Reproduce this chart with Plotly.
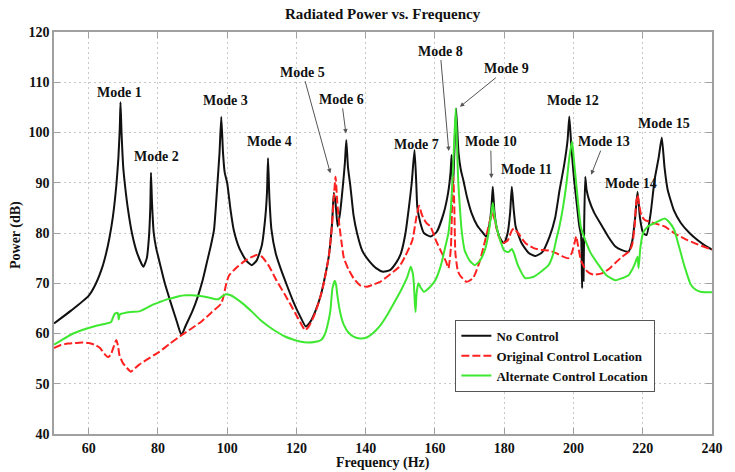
import plotly.graph_objects as go

# ---------------- data ----------------
freq_nc = [50, 55, 60, 62, 64, 65, 66, 67, 68, 68.6, 69.0, 69.2, 69.5, 70, 70.5, 71.3, 72.5, 74, 75.8,
           76.8, 77.4, 77.8, 78.0, 78.3, 78.8, 79.5, 80.2, 82, 84, 85.5, 86.8, 88, 90, 91.5, 93, 94.3,
           95.3, 96.2, 97.2, 97.8, 98.3, 98.8, 99.3, 100, 101, 101.9, 103.5, 105.5, 107.1, 108.5, 110,
           111, 111.5, 111.8, 112.2, 112.8, 114, 115.5, 117.3, 119, 121, 122.7, 124, 125.5, 127, 128.3,
           129.4, 130.3, 130.8, 131.3, 131.9, 132.6, 133.5, 134.0, 134.4, 134.9, 135.6, 136.5, 137.5,
           139, 140.8, 143, 145, 147, 149, 150.2, 151.5, 152.5, 153.3, 154.1, 154.6, 154.9, 155.8,
           156.8, 158.7, 160.5, 162.5, 163.8, 164.5, 164.8, 165.2, 165.6, 166.1, 166.8, 167.5, 168.2,
           169.3, 170.6, 172.2, 173.9, 174.8, 175.7, 176.3, 176.7, 177.2, 178.0, 179.1, 180, 181,
           181.7, 182.2, 182.7, 183.3, 185, 187.1, 189, 191, 193.1, 194.7, 196, 197.3, 198.3, 198.8,
           199.4, 200.2, 201, 201.7, 202.2, 202.5, 202.7, 202.9, 203.1, 203.4, 203.8, 204.5, 206,
           208.3, 210, 212.1, 214, 215.9, 217, 217.8, 218.5, 219.2, 220.1, 221.1, 222.3, 223.4, 224.6,
           225.5, 226.3, 227.2, 229, 231, 233.5, 235.8, 238, 240]
pwr_nc = [62.0, 64.6, 67.5, 69.8, 73.3, 75.8, 79.0, 83.2, 89.5, 95, 101, 106, 100, 93, 89.5, 85, 80, 76,
          73.3, 75, 79, 85, 92, 86, 80, 77, 75, 70, 65.5, 62.3, 59.7, 61.5, 64.5, 67.3, 70.8, 74.6,
          77.5, 80.6, 89.9, 96, 103.1, 96, 92, 90, 84.5, 80.6, 77, 74.5, 73.6, 74.5, 77.5, 83, 88,
          94.9, 87, 80.6, 76, 72.8, 69.5, 66.5, 63.5, 61.4, 62.3, 64.5, 67.5, 71.5, 75.6, 82, 88, 86,
          81.3, 84, 90, 94, 98.5, 93, 89.2, 83.5, 80, 76.5, 74.6, 73, 72.3, 72.6, 74.3, 76, 80, 85.2,
          90, 96.5, 90, 85.2, 82, 80, 79.3, 80.2, 83.9, 88, 92, 95.5, 89, 96, 104.8, 96, 92.5, 90.5,
          87, 83.9, 81.5, 80, 79.3, 81.5, 85, 89.2, 84, 80.5, 78.6, 78, 80, 84, 89.2, 85, 81.3, 78,
          76, 75.4, 76.2, 79.3, 83, 88.6, 93.5, 98.5, 103.2, 97, 90.5, 85.5, 81.3, 79.5, 69, 79, 70.5,
          82, 91.2, 88.5, 86.6, 84, 81.3, 79.3, 77.3, 76.6, 76.3, 78.5, 83, 88.2, 83, 80, 79.6, 84,
          90.5, 95, 99, 93, 88.6, 84.5, 82, 80, 78.6, 77.5, 76.7]

freq_oc = [50, 52, 54, 56, 58, 60, 62, 63.3, 64.5, 65.6, 66.4, 67.3, 68, 68.5, 68.9, 69.9, 71, 72.2,
           73.4, 74.6, 77, 80.3, 83.5, 86.9, 89.5, 92.6, 95.5, 98.3, 99, 99.6, 100.5, 102.5, 105, 107,
           108.5, 110, 112, 114.3, 116.7, 118.5, 120.5, 122.5, 123.5, 125.2, 126.8, 128, 129.4, 130.2,
           130.8, 131.3, 131.8, 132.4, 133.2, 133.7, 135, 136.5, 138.4, 140.3, 142, 144, 146, 148,
           149.7, 151.5, 153.5, 154.6, 155.4, 156.3, 157.5, 158.7, 160.3, 162, 163.2, 163.9, 164.6,
           165.0, 165.3, 165.6, 165.9, 166.6, 167.2, 169.1, 171, 172.9, 174.5, 175.7, 176.5, 177.3,
           178.3, 179.5, 181, 182.2, 182.8, 184, 186.1, 188.5, 190.9, 193, 195, 197, 198.5, 199.5,
           200.3, 200.8, 201.3, 202.2, 203.5, 204.6, 206, 208.4, 210.5, 212, 214.1, 216, 216.9,
           217.6, 218.1, 218.5, 219, 219.6, 220.6, 223, 226.3, 229.5, 232.9, 236, 239.5, 240]
pwr_oc = [57.1, 57.7, 58.0, 58.1, 58.2, 58.1, 57.7, 57.1, 56, 55.3, 55.8, 57.5, 58.7, 57.5, 55.7, 54.1,
          53.2, 52.4, 53.1, 53.8, 54.9, 56.3, 58, 59.7, 60.9, 62.4, 64.2, 66, 67.5, 69.5, 71.5, 73,
          74.4, 75.2, 75.6, 75.3, 73.5, 70.5, 67.7, 65.5, 63, 60.7, 61.3, 63.7, 67, 70.3, 75.6, 81,
          87, 91.2, 86, 81.5, 77.3, 75, 72.8, 71, 69.6, 69.3, 69.7, 70.2, 71.2, 72.3, 73.3, 75.5,
          78.6, 83, 85.4, 83.5, 82, 81.3, 78.5, 76, 74.3, 73, 77, 87, 91.2, 85, 76, 72.5, 71.6, 70.3,
          71, 74.3, 78.5, 82, 84, 82.5, 79.5, 78, 78.5, 80.5, 80.9, 80, 78, 77, 76.6, 76.5, 76, 75.3,
          75, 76, 78, 79.3, 77.5, 74.5, 72.7, 72, 71.7, 72, 73, 74, 75.3, 76.3, 77.5, 81, 86, 87.5,
          85.5, 83.5, 82.6, 82, 81.3, 79.8, 78.6, 77.7, 76.8, 76.7]

freq_ac = [50, 52, 54.7, 57, 59.5, 62, 65.1, 66.5, 67.2, 67.7, 68.4, 68.7, 69.0, 69.9, 72, 74.6, 76.5,
           78.4, 80.3, 82.2, 84, 86, 88, 89.8, 91.7, 93.6, 95.5, 97.3, 98.2, 99.6, 101, 102.5, 104.8,
           107.2, 109.6, 112, 114.4, 116.7, 119, 121, 123.3, 125.2, 127.1, 128.3, 129, 129.8, 130.4,
           131.1, 131.5, 131.8, 132.7, 133.7, 135, 136.5, 138.4, 140.3, 142, 144, 146.3, 148.7, 150.5,
           152, 153, 153.6, 153.9, 154.2, 154.4, 154.7, 155.2, 156, 156.8, 158.5, 160.1, 161.7, 163,
           163.9, 164.6, 165.1, 165.5, 166.0, 166.4, 166.7, 167.2, 167.7, 168.6, 170, 171.5, 173,
           174.5, 175.5, 176.2, 176.7, 177.3, 178.2, 179.1, 180, 181.2, 182.2, 182.8, 184, 186.1,
           188.5, 190.8, 192.8, 194, 195, 196, 197, 198, 198.8, 199.6, 200.2, 200.7, 201.4, 202.1,
           203.4, 205, 207.3, 209.5, 212.1, 214, 215.9, 217, 217.8, 218.5, 218.8, 219.3, 220.1, 221.5,
           223.5, 225, 226.3, 227.5, 229.1, 230.2, 231, 232, 233.9, 235.3, 236.7, 238.5, 240]
pwr_ac = [57.8, 58.6, 59.7, 60.4, 61, 61.5, 62, 62.3, 63.5, 64, 64.1, 62.8, 63.8, 64, 64.3, 64.4, 65,
          65.7, 66.2, 66.7, 67, 67.4, 67.6, 67.6, 67.5, 67.3, 67.0, 66.8, 67.2, 67.8, 67.6, 67, 65.8,
          64.3, 62.7, 61.4, 60.3, 59.4, 58.8, 58.4, 58.2, 58.3, 58.7, 60, 61.7, 64.5, 69, 70.5, 69.5,
          67.7, 64, 61.7, 60.2, 59.4, 59, 59.2, 60, 61.4, 63.8, 66.7, 69, 71.2, 73.3, 72, 70, 66, 64.3,
          68, 70, 69, 68.3, 69.2, 70.6, 73.5, 77.3, 80, 85, 91, 97.2, 104.8, 97, 90.5, 85, 80.6, 76.5,
          74.5, 73.6, 74.5, 76.8, 80, 83.5, 86, 83, 80, 78, 76.5, 76.2, 76.8, 76, 73.5, 71, 71.3, 72.4,
          73.6, 75.5, 78.6, 81.5, 85.2, 90, 95, 98.2, 94, 90.5, 85.5, 81.3, 78.6, 76, 73.6, 71.6, 70.6,
          71, 71.6, 72.8, 74, 75.3, 73, 77, 80, 81.3, 82, 82.5, 82.9, 82.3, 80.6, 78, 76, 73.5, 69.7,
          68.7, 68.3, 68.2, 68.2]

series_names = ["No Control", "Original Control Location", "Alternate Control Location"]

x_ticks = [60, 80, 100, 120, 140, 160, 180, 200, 220, 240]
y_ticks = [40, 50, 60, 70, 80, 90, 100, 110, 120]

# mode labels: text, label position, and arrow tips where present
mode_labels = ["Mode 1", "Mode 2", "Mode 3", "Mode 4", "Mode 5", "Mode 6", "Mode 7", "Mode 8",
               "Mode 9", "Mode 10", "Mode 11", "Mode 12", "Mode 13", "Mode 14", "Mode 15"]
label_x = [68.8, 79.5, 99.5, 112.3, 121.8, 133.0, 154.6, 161.5, 180.8, 176.1, 186.4, 200.0, 208.9, 216.5, 226.1]
label_y = [107.9, 95.3, 106.3, 98.3, 112.0, 106.6, 97.7, 116.2, 112.7, 98.2, 92.6, 106.3, 98.2, 89.9, 101.7]
arrow_x = [None, None, None, None, 129.8, 134.3, None, 164.0, 167.2, 176.3, None, None, 205.1, None, None]
arrow_y = [None, None, None, None, 91.9, 99.8, None, 96.3, 105.1, 90.9, None, None, 91.6, None, None]

# ---------------- figure ----------------
FONT = "Liberation Serif, 'Times New Roman', Times, serif"
fig = go.Figure()
fig.add_trace(go.Scatter(x=freq_nc, y=pwr_nc, mode="lines", name="<b>%s</b>" % series_names[0],
                         line=dict(color="#111111", width=2, shape="spline", smoothing=0.5)))
fig.add_trace(go.Scatter(x=freq_oc, y=pwr_oc, mode="lines", name="<b>%s</b>" % series_names[1],
                         line=dict(color="#ff2020", width=2, dash="8px,3px", shape="spline", smoothing=0.5)))
fig.add_trace(go.Scatter(x=freq_ac, y=pwr_ac, mode="lines", name="<b>%s</b>" % series_names[2],
                         line=dict(color="#3ee830", width=2, shape="spline", smoothing=0.5)))

annotations = []
for t, lx, ly, tx, ty in zip(mode_labels, label_x, label_y, arrow_x, arrow_y):
    if tx is None:
        annotations.append(dict(x=lx, y=ly, xref="x", yref="y", text="<b>%s</b>" % t,
                                xanchor="center", yanchor="middle",
                                showarrow=False, font=dict(family=FONT, size=14, color="#111")))
    else:
        annotations.append(dict(x=tx, y=ty, ax=lx, ay=ly, xref="x", yref="y", axref="x", ayref="y",
                                xanchor="center", yanchor="middle",
                                text="<b>%s</b>" % t, showarrow=True, arrowhead=2, arrowsize=0.9,
                                arrowwidth=1, arrowcolor="#555", standoff=0,
                                font=dict(family=FONT, size=14, color="#111")))

annotations.append(dict(x=0.5, y=1, xref="paper", yref="paper", yshift=18, showarrow=False,
                        xanchor="center", yanchor="middle",
                        text="<b>Radiated Power vs. Frequency</b>",
                        font=dict(family=FONT, size=15, color="#111")))
annotations.append(dict(x=0.5, y=0, xref="paper", yref="paper", yshift=-29, showarrow=False,
                        xanchor="center", yanchor="middle",
                        text="<b>Frequency (Hz)</b>", font=dict(family=FONT, size=14, color="#111")))
annotations.append(dict(x=0, y=0.495, xref="paper", yref="paper", xshift=-38, showarrow=False,
                        xanchor="center", yanchor="middle",
                        textangle=-90, text="<b>Power (dB)</b>",
                        font=dict(family=FONT, size=14, color="#111")))

axis_common = dict(showline=True, linecolor="#a0a0a0", linewidth=1.5, mirror="ticks",
                   ticks="inside", ticklen=6, tickcolor="#a0a0a0", tickwidth=1,
                   showgrid=True, gridcolor="#c8c8c8", gridwidth=1, griddash="2px,3px",
                   zeroline=False,
                   tickfont=dict(family=FONT, size=14, color="#111", weight="bold"))

fig.update_layout(
    width=735, height=472,
    margin=dict(l=54, r=12, t=32, b=38),
    paper_bgcolor="white", plot_bgcolor="white",
    font=dict(family=FONT),
    xaxis=dict(range=[50, 240], tickvals=x_ticks, **axis_common),
    yaxis=dict(range=[40, 120], tickvals=y_ticks, **axis_common),
    legend=dict(x=0.61, y=0.284, xanchor="left", yanchor="top", bgcolor="white",
                bordercolor="#555", borderwidth=1, font=dict(family=FONT, size=13, color="#111"),
                tracegroupgap=0, itemwidth=30),
    annotations=annotations,
    showlegend=True,
)

fig.write_html("out.html")
